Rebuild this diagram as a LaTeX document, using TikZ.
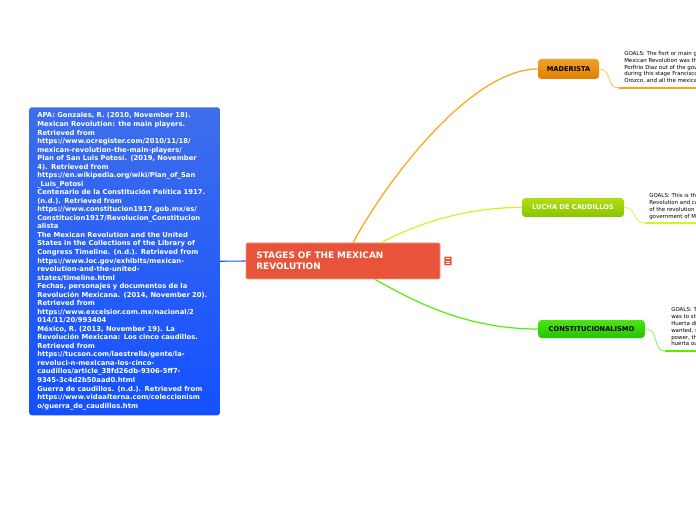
\documentclass[tikz,border=0pt]{standalone}
\usepackage{fontspec}
\setmainfont{DejaVu Sans}
\usepackage{xcolor}
\usetikzlibrary{positioning}

\definecolor{refblue}{RGB}{20,80,255}
\definecolor{refbluetop}{RGB}{62,110,235}
\definecolor{topicred}{RGB}{232,84,58}
\definecolor{madorange}{RGB}{222,128,0}
\definecolor{madtop}{RGB}{242,160,40}
\definecolor{madline}{RGB}{255,162,20}
\definecolor{luchagreen}{RGB}{136,196,0}
\definecolor{luchatop}{RGB}{176,222,20}
\definecolor{luchaline}{RGB}{212,242,40}
\definecolor{constgreen}{RGB}{36,196,0}
\definecolor{consttop}{RGB}{76,228,20}
\definecolor{constline}{RGB}{84,240,0}

\begin{document}
\begin{tikzpicture}[
  x=0.75pt, y=-0.75pt,
  refbox/.style={rounded corners=2pt, top color=refbluetop, bottom color=refblue,
                 text=white, align=left, text width=131pt, inner xsep=6pt,
                 minimum height=231pt, anchor=north west,
                 font=\fontsize{5.1}{6.4}\selectfont\bfseries},
  topicbox/.style={fill=topicred, draw=topicred!60!white, line width=0.4pt,
                   rounded corners=1pt, text=white, align=left, text width=130pt,
                   inner xsep=7.5pt, minimum width=145.5pt, minimum height=27pt,
                   font=\fontsize{6.7}{8.3}\selectfont\bfseries},
  stagebox/.style={rounded corners=2.5pt, font=\fontsize{5}{6}\selectfont\bfseries,
                   inner sep=0pt, align=center},
  goaltext/.style={anchor=north west, inner sep=0pt, align=left,
                   font=\fontsize{4.1}{5.1}\selectfont},
  notesicon/.style={fill=topicred, minimum width=5.5pt, minimum height=6.5pt,
                    inner sep=0pt, rounded corners=0.5pt},
  branch/.style={line width=0.9pt},
  twig/.style={line width=0.6pt},
  underline/.style={line width=1.8pt}
]
  \useasboundingbox (0,0) rectangle (696,520);
  \clip (0,0) rectangle (696,520);
  \fill[white] (0,0) rectangle (696,520);

  % References
  \node[refbox] (refs) at (29,107) {APA: Gonzales, R. (2010, November 18).\\
Mexican Revolution: the main players.\\
Retrieved from\\
https://www.ocregister.com/2010/11/18/\\
mexican-revolution-the-main-players/\\
Plan of San Luis Potosí. (2019, November\\
4). Retrieved from\\
https://en.wikipedia.org/wiki/Plan\_of\_San\\
\_Luis\_Potosi\\
Centenario de la Constitución Política 1917.\\
(n.d.). Retrieved from\\
https://www.constitucion1917.gob.mx/es/\\
Constitucion1917/Revolucion\_Constitucion\\
alista\\
The Mexican Revolution and the United\\
States in the Collections of the Library of\\
Congress Timeline. (n.d.). Retrieved from\\
https://www.loc.gov/exhibits/mexican-\\
revolution-and-the-united-\\
states/timeline.html\\
Fechas, personajes y documentos de la\\
Revolución Mexicana. (2014, November 20).\\
Retrieved from\\
https://www.excelsior.com.mx/nacional/2\\
014/11/20/993404\\
México, R. (2013, November 19). La\\
Revolución Mexicana: Los cinco caudillos.\\
Retrieved from\\
https://tucson.com/laestrella/gente/la-\\
revoluci-n-mexicana-los-cinco-\\
caudillos/article\_38fd26db-9306-5ff7-\\
9345-3c4d2b50aad0.html\\
Guerra de caudillos. (n.d.). Retrieved from\\
https://www.vidaalterna.com/coleccionism\\
o/guerra\_de\_caudillos.htm};

  % Central topic
  \node[topicbox] (topic) at (343,261) {STAGES OF THE MEXICAN\\REVOLUTION};
  \node[notesicon] (notes) at (448,261) {};
  \foreach \dy in {-1.7,0,1.7}
    \draw[white, line width=0.5pt] ([xshift=-1.8pt,yshift=\dy pt]notes.center) -- ++(3.6pt,0);

  \draw[refblue, line width=0.8pt] (refs.east) -- (topic.west);

  % Stages
  \node[stagebox, top color=madtop, bottom color=madorange, text=black,
        minimum width=45.75pt, minimum height=15pt] (mad) at (568.5,69) {MADERISTA};
  \node[stagebox, top color=luchatop, bottom color=luchagreen, text=white,
        minimum width=76.5pt, minimum height=14.25pt] (lucha) at (573,207.5) {LUCHA DE CAUDILLOS};
  \node[stagebox, top color=consttop, bottom color=constgreen, text=black,
        minimum width=80pt, minimum height=13.5pt] (const) at (591.5,329) {CONSTITUCIONALISMO};

  \draw[branch, madline] ([xshift=7.5pt]topic.north) .. controls (385,183) and (470,69) .. (mad.west);
  \draw[branch, luchaline] ([xshift=28.5pt]topic.north) .. controls (420,222) and (470,207) .. (lucha.west);
  \draw[branch, constline] ([xshift=24pt]topic.south) .. controls (420,305) and (470,329) .. (const.west);

  % Goals
  \coordinate (madU) at (619,88);
  \coordinate (madE) at (700,88);
  \node[goaltext] (madgoal) at (624,51) {GOALS: The fisrt or main goal\\
Mexican Revolution was the\\
Porfirio Diaz out of the government\\
during this stage Francisco\\
Orozco, and all the mexican};
  \draw[twig, madline!70!white] (mad.east) .. controls (612,69) and (606,88) .. (madU);
  \draw[underline, madline] (madU) -- (madE);

  \coordinate (luchaU) at (645,223);
  \coordinate (luchaE) at (700,223);
  \node[goaltext] (luchagoal) at (649,193.5) {GOALS: This is the\\
Revolution and caudillos\\
of the revolution\\
government of Mexico};
  \draw[twig, luchaline!80!white] (lucha.east) .. controls (637,207) and (632,223) .. (luchaU);
  \draw[underline, luchaline] (luchaU) -- (luchaE);

  \coordinate (constU) at (665,351);
  \coordinate (constE) at (700,351);
  \node[goaltext] (constgoal) at (671,307.5) {GOALS: The\\
was to stop\\
Huerta did\\
wanted, so\\
power, the\\
huerta out};
  \draw[twig, constline!70!white] (const.east) .. controls (660,329) and (652,351) .. (constU);
  \draw[underline, constline] (constU) -- (constE);
\end{tikzpicture}
\end{document}
